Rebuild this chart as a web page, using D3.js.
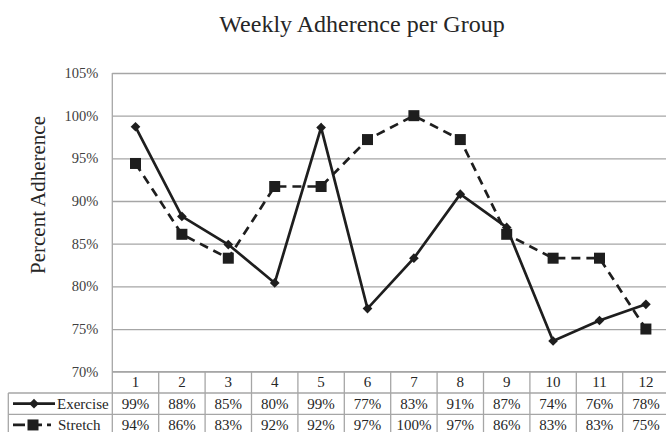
<!DOCTYPE html>
<html>
<head>
<meta charset="utf-8">
<script src="https://cdn.jsdelivr.net/npm/d3@7/dist/d3.min.js"></script>
<style>
  html, body { margin: 0; padding: 0; background: #fff; }
  svg { display: block; }
</style>
</head>
<body>
<svg id="chart" width="666" height="432"></svg>
<script>
const weeks = ["1","2","3","4","5","6","7","8","9","10","11","12"];
const exercise = [98.7, 88.2, 84.9, 80.4, 98.6, 77.4, 83.3, 90.8, 86.9, 73.6, 76.0, 77.9];
const stretch  = [94.4, 86.1, 83.3, 91.7, 91.7, 97.2, 100, 97.2, 86.1, 83.3, 83.3, 75.0];
const yTicks = [70, 75, 80, 85, 90, 95, 100, 105];
const seriesNames = ["Exercise", "Stretch"];

(function () {
const svg = d3.select("#chart");
const FONT = "'Liberation Serif', 'Times New Roman', serif";
const GRID = "#a6a6a6";
const INK = "#1e1e1e";
const TXT = "#262626";

const plotLeft = 112.3, colW = 46.4;
const plotRight = plotLeft + colW * weeks.length;
const plotTop = 73, plotBottom = 371.7;

const x = d3.scaleBand().domain(weeks).range([plotLeft, plotRight]).padding(0);
const y = d3.scaleLinear().domain([70, 105]).range([plotBottom, plotTop]);

// Title
svg.append("text")
  .attr("x", 362).attr("y", 31.5)
  .attr("text-anchor", "middle")
  .attr("font-family", FONT).attr("font-size", 24)
  .attr("fill", TXT)
  .text("Weekly Adherence per Group");

// Y label
svg.append("text")
  .attr("transform", "translate(44.5,195) rotate(-90)")
  .attr("text-anchor", "middle")
  .attr("font-family", FONT).attr("font-size", 21)
  .attr("fill", TXT)
  .text("Percent Adherence");

// Y axis with gridlines
const yAxis = d3.axisLeft(y)
  .tickValues(yTicks)
  .tickSizeInner(-(plotRight - plotLeft))
  .tickSizeOuter(0)
  .tickPadding(14)
  .tickFormat(d => d + "%");

const gy = svg.append("g").attr("transform", `translate(${plotLeft},0)`).call(yAxis);
gy.attr("font-family", FONT);
gy.select(".domain").remove();
gy.selectAll(".tick line").attr("stroke", GRID).attr("stroke-width", 1.3);
gy.selectAll(".tick text")
  .attr("font-family", FONT).attr("font-size", 14.5)
  .attr("fill", "#404040");

// Table grid
const rowH = 21.3;
const tableTop = plotBottom;
const tableLeft = 8.3;
const tg = svg.append("g").attr("stroke", GRID).attr("stroke-width", 1.3).attr("fill", "none");
tg.append("line").attr("x1", plotLeft).attr("x2", plotLeft).attr("y1", plotTop).attr("y2", tableTop + rowH * 3 + 2);
tg.append("line").attr("x1", plotLeft).attr("x2", plotRight).attr("y1", tableTop).attr("y2", tableTop);
[1, 2].forEach(i => {
  tg.append("line").attr("x1", tableLeft).attr("x2", plotRight)
    .attr("y1", tableTop + rowH * i).attr("y2", tableTop + rowH * i);
});
tg.append("line").attr("x1", tableLeft).attr("x2", tableLeft)
  .attr("y1", tableTop + rowH).attr("y2", tableTop + rowH * 3 + 2);
weeks.forEach(w => {
  const xr = x(w) + x.bandwidth();
  tg.append("line").attr("x1", xr).attr("x2", xr).attr("y1", tableTop).attr("y2", tableTop + rowH * 3 + 2);
});

// Header row
svg.append("g").selectAll("text").data(weeks).join("text")
  .attr("x", d => x(d) + x.bandwidth() / 2)
  .attr("y", tableTop + rowH / 2 + 5)
  .attr("text-anchor", "middle")
  .attr("font-family", FONT).attr("font-size", 15)
  .attr("fill", TXT)
  .text(d => d);

// Data rows
[exercise, stretch].forEach((vals, r) => {
  svg.append("g").selectAll("text").data(vals).join("text")
    .attr("x", (d, i) => x(weeks[i]) + x.bandwidth() / 2)
    .attr("y", tableTop + rowH * (r + 1) + rowH / 2 + 5)
    .attr("text-anchor", "middle")
    .attr("font-family", FONT).attr("font-size", 15)
    .attr("fill", TXT)
    .text(d => Math.round(d) + "%");
});

// Lines
const line = d3.line()
  .x((d, i) => x(weeks[i]) + x.bandwidth() / 2)
  .y(d => y(d));

svg.append("path").datum(stretch)
  .attr("d", line).attr("fill", "none")
  .attr("stroke", INK).attr("stroke-width", 2.7)
  .attr("stroke-dasharray", "9,6");

svg.append("path").datum(exercise)
  .attr("d", line).attr("fill", "none")
  .attr("stroke", INK).attr("stroke-width", 2.7);

// Markers
const sq = 11;
svg.append("g").selectAll("rect").data(stretch).join("rect")
  .attr("x", (d, i) => x(weeks[i]) + x.bandwidth() / 2 - sq / 2)
  .attr("y", d => y(d) - sq / 2)
  .attr("width", sq).attr("height", sq)
  .attr("fill", INK);

const diamond = d3.symbol().type(d3.symbolDiamond2).size(60);
svg.append("g").selectAll("path").data(exercise).join("path")
  .attr("d", diamond)
  .attr("transform", (d, i) => `translate(${x(weeks[i]) + x.bandwidth() / 2},${y(d)})`)
  .attr("fill", INK);

// Legend keys in table
const keyY1 = tableTop + rowH * 1.5;
const keyY2 = tableTop + rowH * 2.5;
svg.append("line").attr("x1", 13).attr("x2", 55).attr("y1", keyY1).attr("y2", keyY1)
  .attr("stroke", INK).attr("stroke-width", 2.7);
svg.append("path").attr("d", diamond)
  .attr("transform", `translate(34,${keyY1})`).attr("fill", INK);
svg.append("line").attr("x1", 13).attr("x2", 51).attr("y1", keyY2).attr("y2", keyY2)
  .attr("stroke", INK).attr("stroke-width", 2.7).attr("stroke-dasharray", "12,5");
svg.append("rect").attr("x", 33 - sq / 2).attr("y", keyY2 - sq / 2)
  .attr("width", sq).attr("height", sq).attr("fill", INK);

svg.append("text").attr("x", 57).attr("y", keyY1 + 5)
  .attr("font-family", FONT).attr("font-size", 15).attr("fill", TXT)
  .text(seriesNames[0]);
svg.append("text").attr("x", 58).attr("y", keyY2 + 5)
  .attr("font-family", FONT).attr("font-size", 15).attr("fill", TXT)
  .text(seriesNames[1]);
})();
</script>
</body>
</html>
